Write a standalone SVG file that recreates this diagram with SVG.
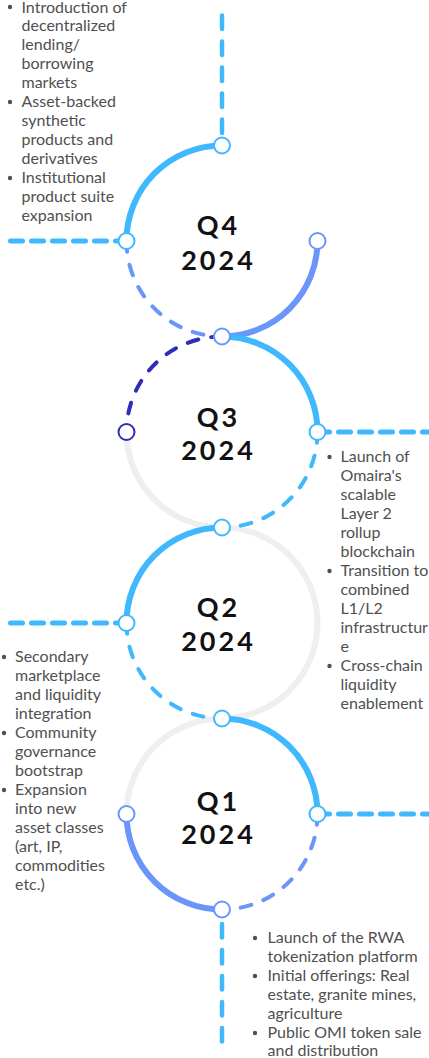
<svg xmlns="http://www.w3.org/2000/svg" width="429" height="1058" viewBox="0 0 429 1058">
<style>
.bg{fill:#ffffff}
.gray{fill:none;stroke:#efefef;stroke-width:6}
.solid{fill:none;stroke-width:6}
.dash{fill:none;stroke-width:4;stroke-dasharray:11 13;stroke-linecap:round}
.lb{stroke:#3fb8fd}
.pw{stroke:#6a96fc}
.db{stroke:#2f2db5}
.hline{fill:none;stroke:#3fb8fd;stroke-width:5;stroke-dasharray:12 9;stroke-linecap:round}
.vline{fill:none;stroke:#3fb8fd;stroke-width:4.5;stroke-dasharray:13.5 12.5;stroke-linecap:round}
.node{fill:#ffffff;stroke-width:2}
.q{font-family:Lato,"Liberation Sans",sans-serif;font-weight:700;font-size:27px;letter-spacing:3px;fill:#111111;text-anchor:middle}
.t{font-family:Lato,"Liberation Sans",sans-serif;font-size:16px;fill:#505050}
.b{fill:#505050}
</style>
<rect class="bg" x="0" y="0" width="429" height="1058"/>
<g id="connectors">
  <path class="gray" d="M222 527.5 A95.5 95.5 0 0 1 126.5 432"/>
  <path class="gray" d="M222 527.5 A95.5 95.5 0 0 1 317.5 623 A95.5 95.5 0 0 1 222 718.5"/>
  <path class="gray" d="M126.5 814 A95.5 95.5 0 0 1 222 718.5"/>
  <path class="vline" d="M222 15.5 L222 136"/>
  <path class="hline" d="M10.5 241 L117 241"/>
  <path class="hline" d="M317.5 432 L429 432"/>
  <path class="hline" d="M10.5 623 L117 623"/>
  <path class="hline" d="M317.5 814 L429 814"/>
  <path class="vline" d="M222 924 L222 1044"/>
  <path class="solid lb" d="M126.5 241 A95.5 95.5 0 0 1 222 145.5"/>
  <path class="dash pw" d="M126.5 241 A95.5 95.5 0 0 0 222 336.5"/>
  <path class="solid pw" d="M222 336.5 A95.5 95.5 0 0 0 317.5 241"/>
  <path class="dash db" d="M222 336.5 A95.5 95.5 0 0 0 126.5 432"/>
  <path class="solid lb" d="M222 336.5 A95.5 95.5 0 0 1 317.5 432"/>
  <path class="dash lb" d="M317.5 432 A95.5 95.5 0 0 1 222 527.5"/>
  <path class="solid lb" d="M126.5 623 A95.5 95.5 0 0 1 222 527.5"/>
  <path class="dash lb" d="M126.5 623 A95.5 95.5 0 0 0 222 718.5"/>
  <path class="solid lb" d="M222 718.5 A95.5 95.5 0 0 1 317.5 814"/>
  <path class="dash pw" d="M317.5 814 A95.5 95.5 0 0 1 222 909.5"/>
  <path class="solid pw" d="M126.5 814 A95.5 95.5 0 0 0 222 909.5"/>
</g>
<g id="nodes">
  <circle class="node lb" cx="222" cy="145.5" r="8"/>
  <circle class="node lb" cx="126.5" cy="241" r="8"/>
  <circle class="node pw" cx="317.5" cy="241" r="8"/>
  <circle class="node pw" cx="222" cy="336.5" r="8"/>
  <circle class="node db" cx="126.5" cy="432" r="8"/>
  <circle class="node lb" cx="317.5" cy="432" r="8"/>
  <circle class="node lb" cx="222" cy="527.5" r="8"/>
  <circle class="node lb" cx="126.5" cy="623" r="8"/>
  <circle class="node lb" cx="222" cy="718.5" r="8"/>
  <circle class="node pw" cx="126.5" cy="814" r="8"/>
  <circle class="node lb" cx="317.5" cy="814" r="8"/>
  <circle class="node pw" cx="222" cy="909.5" r="8"/>
</g>
<g id="q4">
  <text class="q" x="218.5" y="235">Q4</text>
  <text class="q" x="218.5" y="269.5">2024</text>
  <circle class="b" cx="10" cy="7" r="2.2"/>
  <circle class="b" cx="10" cy="102" r="2.2"/>
  <circle class="b" cx="10" cy="178" r="2.2"/>
  <text class="t">
    <tspan x="21.5" y="12.5">Introduction of</tspan>
    <tspan x="21.5" y="31">decentralized</tspan>
    <tspan x="21.5" y="50">lending/</tspan>
    <tspan x="21.5" y="69">borrowing</tspan>
    <tspan x="21.5" y="88">markets</tspan>
    <tspan x="21.5" y="107">Asset-backed</tspan>
    <tspan x="21.5" y="126">synthetic</tspan>
    <tspan x="21.5" y="145">products and</tspan>
    <tspan x="21.5" y="164">derivatives</tspan>
    <tspan x="21.5" y="183">Institutional</tspan>
    <tspan x="21.5" y="202">product suite</tspan>
    <tspan x="21.5" y="221">expansion</tspan>
  </text>
</g>
<g id="q3">
  <text class="q" x="218.5" y="427">Q3</text>
  <text class="q" x="218.5" y="460">2024</text>
  <circle class="b" cx="329.5" cy="457" r="2.2"/>
  <circle class="b" cx="329.5" cy="571" r="2.2"/>
  <circle class="b" cx="329.5" cy="666" r="2.2"/>
  <text class="t">
    <tspan x="340.5" y="462">Launch of</tspan>
    <tspan x="340.5" y="481">Omaira's</tspan>
    <tspan x="340.5" y="500">scalable</tspan>
    <tspan x="340.5" y="519">Layer 2</tspan>
    <tspan x="340.5" y="538">rollup</tspan>
    <tspan x="340.5" y="557">blockchain</tspan>
    <tspan x="340.5" y="576">Transition to</tspan>
    <tspan x="340.5" y="595">combined</tspan>
    <tspan x="340.5" y="614">L1/L2</tspan>
    <tspan x="340.5" y="633">infrastructur</tspan>
    <tspan x="340.5" y="652">e</tspan>
    <tspan x="340.5" y="671">Cross-chain</tspan>
    <tspan x="340.5" y="690">liquidity</tspan>
    <tspan x="340.5" y="709">enablement</tspan>
  </text>
</g>
<g id="q2">
  <text class="q" x="218.5" y="617">Q2</text>
  <text class="q" x="218.5" y="651">2024</text>
  <circle class="b" cx="4" cy="657" r="2.2"/>
  <circle class="b" cx="4" cy="733" r="2.2"/>
  <circle class="b" cx="4" cy="790" r="2.2"/>
  <text class="t">
    <tspan x="15" y="662">Secondary</tspan>
    <tspan x="15" y="681">marketplace</tspan>
    <tspan x="15" y="700">and liquidity</tspan>
    <tspan x="15" y="719">integration</tspan>
    <tspan x="15" y="738">Community</tspan>
    <tspan x="15" y="757">governance</tspan>
    <tspan x="15" y="776">bootstrap</tspan>
    <tspan x="15" y="795">Expansion</tspan>
    <tspan x="15" y="814">into new</tspan>
    <tspan x="15" y="833">asset classes</tspan>
    <tspan x="15" y="852">(art, IP,</tspan>
    <tspan x="15" y="871">commodities</tspan>
    <tspan x="15" y="890">etc.)</tspan>
  </text>
</g>
<g id="q1">
  <text class="q" x="218.5" y="811">Q1</text>
  <text class="q" x="218.5" y="844">2024</text>
  <circle class="b" cx="255" cy="938" r="2.2"/>
  <circle class="b" cx="255" cy="976" r="2.2"/>
  <circle class="b" cx="255" cy="1033" r="2.2"/>
  <text class="t">
    <tspan x="267.5" y="943">Launch of the RWA</tspan>
    <tspan x="267.5" y="962">tokenization platform</tspan>
    <tspan x="267.5" y="981">Initial offerings: Real</tspan>
    <tspan x="267.5" y="1000">estate, granite mines,</tspan>
    <tspan x="267.5" y="1019">agriculture</tspan>
    <tspan x="267.5" y="1038">Public OMI token sale</tspan>
    <tspan x="267.5" y="1056">and distribution</tspan>
  </text>
</g>
</svg>
